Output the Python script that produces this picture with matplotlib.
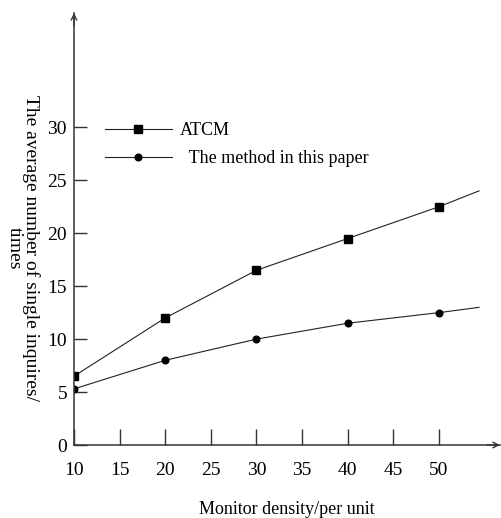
import matplotlib
matplotlib.use('Agg')
import matplotlib.pyplot as plt

# データ (読み取り値)
density = [10, 20, 30, 40, 50]
atcm = [6.5, 12, 16.5, 19.5, 22.5]
ours = [5.3, 8, 10, 11.5, 12.5]
# 50 の先に伸びる線の端
tail_x = 54.4
atcm_tail = 24
ours_tail = 13

xticks = [10, 15, 20, 25, 30, 35, 40, 45, 50]
yticks = [0, 5, 10, 15, 20, 25, 30]

plt.rcParams['font.family'] = ['Liberation Serif', 'DejaVu Serif']

W, H = 501, 518
fig = plt.figure(figsize=(W / 100, H / 100), dpi=100)
ax = fig.add_axes([74 / W, (H - 445) / H, (500 - 74) / W, (445 - 13) / H])

lc = '#222222'
ax.plot(density + [tail_x], atcm + [atcm_tail], color=lc, lw=0.8)
ax.plot(density + [tail_x], ours + [ours_tail], color=lc, lw=0.8)
ax.plot(density, atcm, ls='none', marker='s', ms=6, color='black')
ax.plot(density, ours, ls='none', marker='o', ms=4.8, color='black')

# 凡例用のダミー
h1, = ax.plot([], [], color=lc, lw=0.8, marker='s', ms=6, mfc='black', mec='black')
h2, = ax.plot([], [], color=lc, lw=0.8, marker='o', ms=4.8, mfc='black', mec='black')
ax.legend([h1, h2], ['ATCM', '  The method in this paper'], loc='upper left',
          bbox_to_anchor=(105 / W, 1 - 122 / H), bbox_transform=fig.transFigure,
          frameon=False, fontsize=13, handlelength=3.7, handletextpad=0.45,
          labelspacing=0.62, borderpad=0, borderaxespad=0, numpoints=1)

ax.set_xlim(10, 56.7)
ax.set_ylim(0, 40.8)
ax.set_xticks(xticks)
ax.set_yticks(yticks)
ax.tick_params(axis='x', direction='in', length=11.5, width=1, pad=12,
               labelsize=14, color='#333333')
ax.tick_params(axis='y', direction='in', length=9.5, width=1, pad=5,
               labelsize=14, color='#333333')

for s in ['top', 'right']:
    ax.spines[s].set_visible(False)
for s in ['left', 'bottom']:
    ax.spines[s].set_color('#333333')
    ax.spines[s].set_linewidth(1.1)

# 矢印
ax.annotate('', xy=(0, 1.0), xytext=(0, 0.97), xycoords='axes fraction',
            arrowprops=dict(arrowstyle='->', color='#333333', lw=1.0,
                            shrinkA=0, shrinkB=0))
ax.annotate('', xy=(1.0, 0), xytext=(0.97, 0), xycoords='axes fraction',
            arrowprops=dict(arrowstyle='->', color='#333333', lw=1.0,
                            shrinkA=0, shrinkB=0))

ax.set_xlabel('Monitor density/per unit', fontsize=13, labelpad=16)
ax.set_ylabel('The average number of single inquires/\ntimes', fontsize=14,
              rotation=-90, ha='center', va='center', multialignment='center',
              linespacing=1.0)
ax.yaxis.set_label_coords(-0.12, 0.456)

fig.savefig('out.png', dpi=100)
